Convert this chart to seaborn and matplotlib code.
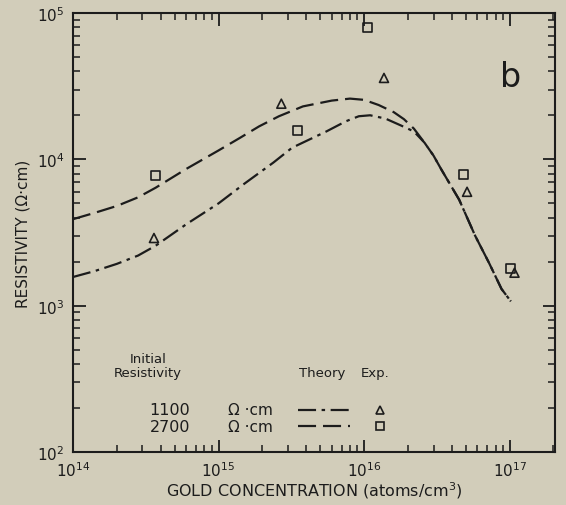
import numpy as np
import pandas as pd
import matplotlib
matplotlib.use("Agg")
import matplotlib.pyplot as plt
from matplotlib.lines import Line2D
from matplotlib.ticker import LogLocator, LogFormatterMathtext, NullFormatter
import seaborn as sns

# Theory curves: gold concentration (atoms/cm^3) vs resistivity (ohm-cm)
theory_2700_conc = [1e14, 1.4e14, 2e14, 2.8e14, 3.7e14, 6e14, 1e15, 1.4e15, 1.9e15,
                    2.6e15, 3.8e15, 6e15, 8e15, 1e16, 1.26e16, 1.6e16, 1.88e16,
                    2.2e16, 2.6e16, 3.0e16, 3.4e16, 4.5e16, 5.8e16, 7.2e16,
                    8.8e16, 1.02e17]
theory_2700_res = [3.9e3, 4.3e3, 4.8e3, 5.5e3, 6.4e3, 8.6e3, 1.15e4, 1.4e4, 1.68e4,
                   1.97e4, 2.3e4, 2.52e4, 2.6e4, 2.55e4, 2.35e4, 2.1e4, 1.88e4,
                   1.62e4, 1.3e4, 1.06e4, 8.5e3, 5.3e3, 3.0e3, 1.97e3,
                   1.3e3, 1.07e3]

theory_1100_conc = [1e14, 1.4e14, 2e14, 2.8e14, 3.7e14, 6e14, 1e15, 1.5e15, 2.38e15,
                    3.2e15, 4.3e15, 5.5e15, 7.5e15, 9.2e15, 1.1e16, 1.4e16, 1.8e16,
                    2.2e16, 2.6e16, 3.0e16, 3.4e16, 4.5e16, 5.8e16, 7.2e16,
                    8.8e16, 1.02e17]
theory_1100_res = [1.57e3, 1.72e3, 1.93e3, 2.2e3, 2.57e3, 3.6e3, 5.0e3, 6.8e3, 9.5e3,
                   1.2e4, 1.38e4, 1.55e4, 1.82e4, 1.97e4, 2.0e4, 1.9e4, 1.7e4,
                   1.55e4, 1.3e4, 1.06e4, 8.5e3, 5.3e3, 3.0e3, 1.97e3,
                   1.3e3, 1.07e3]

# Experimental points
exp_1100_conc = [3.6e14, 2.7e15, 1.37e16, 5.1e16, 1.08e17]
exp_1100_res = [2.9e3, 2.4e4, 3.6e4, 6.0e3, 1.68e3]
exp_2700_conc = [3.7e14, 3.5e15, 1.05e16, 4.8e16, 1.02e17]
exp_2700_res = [7.8e3, 1.58e4, 8.0e4, 7.9e3, 1.8e3]

x_ticks = [1e14, 1e15, 1e16, 1e17]
y_ticks = [1e2, 1e3, 1e4, 1e5]

BG = "#d2cdba"
INK = "#1c1c1c"

sns.set_theme(style="ticks")
plt.rcParams["font.family"] = ["DejaVu Sans"]
plt.rcParams["lines.scale_dashes"] = False

theory = pd.concat([
    pd.DataFrame({"conc": theory_1100_conc, "res": theory_1100_res, "initial": "1100"}),
    pd.DataFrame({"conc": theory_2700_conc, "res": theory_2700_res, "initial": "2700"}),
], ignore_index=True)
exp = pd.concat([
    pd.DataFrame({"conc": exp_1100_conc, "res": exp_1100_res, "initial": "1100"}),
    pd.DataFrame({"conc": exp_2700_conc, "res": exp_2700_res, "initial": "2700"}),
], ignore_index=True)

dash_map = {"1100": (13, 4, 2.5, 4), "2700": (13, 5)}
marker_map = {"1100": "^", "2700": "s"}

fig = plt.figure(figsize=(5.66, 5.06), dpi=100, facecolor=BG)
ax = fig.add_axes([73 / 566, 53 / 506, 482 / 566, 439 / 506])
ax.set_facecolor(BG)

sns.lineplot(data=theory, x="conc", y="res", style="initial", dashes=dash_map,
             color=INK, linewidth=1.6, sort=False, estimator=None,
             legend=False, ax=ax)
sns.scatterplot(data=exp, x="conc", y="res", style="initial", markers=marker_map,
                s=42, facecolor="none", edgecolor=INK, linewidth=1.2,
                legend=False, ax=ax)

ax.set_xscale("log")
ax.set_yscale("log")
ax.set_xlim(1e14, 2.05e17)
ax.set_ylim(1e2, 1e5)

ax.set_xticks(x_ticks)
ax.set_yticks(y_ticks)
ax.xaxis.set_major_formatter(LogFormatterMathtext())
ax.yaxis.set_major_formatter(LogFormatterMathtext())
ax.xaxis.set_minor_locator(LogLocator(base=10, subs=np.arange(2, 10), numticks=20))
ax.yaxis.set_minor_locator(LogLocator(base=10, subs=np.arange(2, 10), numticks=20))
ax.xaxis.set_minor_formatter(NullFormatter())
ax.yaxis.set_minor_formatter(NullFormatter())

ax.tick_params(which="both", direction="in", top=True, right=True, color=INK,
               labelcolor=INK, labelsize=11)
ax.tick_params(which="major", length=9, width=1.3, pad=6)
ax.tick_params(which="minor", length=5, width=1.1)
for sp in ax.spines.values():
    sp.set_color(INK)
    sp.set_linewidth(1.5)

ax.set_xlabel("GOLD CONCENTRATION (atoms/cm$^3$)", fontsize=11.5, color=INK, labelpad=0)
ax.set_ylabel("RESISTIVITY (Ω·cm)", fontsize=11, color=INK, labelpad=5)

ax.text(0.907, 0.855, "b", transform=ax.transAxes, fontsize=24, color=INK,
        ha="center", va="center")

# Legend table
tkw = dict(transform=ax.transAxes, color=INK, fontsize=9.5)
ax.text(0.156, 0.212, "Initial", ha="center", va="center", **tkw)
ax.text(0.156, 0.180, "Resistivity", ha="center", va="center", **tkw)
ax.text(0.517, 0.182, "Theory", ha="center", va="center", **tkw)
ax.text(0.627, 0.182, "Exp.", ha="center", va="center", **tkw)

rows = [("1100", 0.0957), ("2700", 0.059)]
for key, yy in rows:
    ax.text(0.243, yy, key, ha="right", va="center", transform=ax.transAxes,
            color=INK, fontsize=11.5)
    ax.text(0.322, yy, "Ω ·cm", ha="left", va="center", transform=ax.transAxes,
            color=INK, fontsize=11)
    ax.add_line(Line2D([0.467, 0.575], [yy, yy], transform=ax.transAxes,
                       color=INK, linewidth=1.6, dashes=dash_map[key]))
    ax.add_line(Line2D([0.637], [yy], transform=ax.transAxes, linestyle="none",
                       marker=marker_map[key], markersize=6.2,
                       markerfacecolor="none", markeredgecolor=INK,
                       markeredgewidth=1.2))

fig.savefig("out.png", dpi=100, facecolor=BG)
